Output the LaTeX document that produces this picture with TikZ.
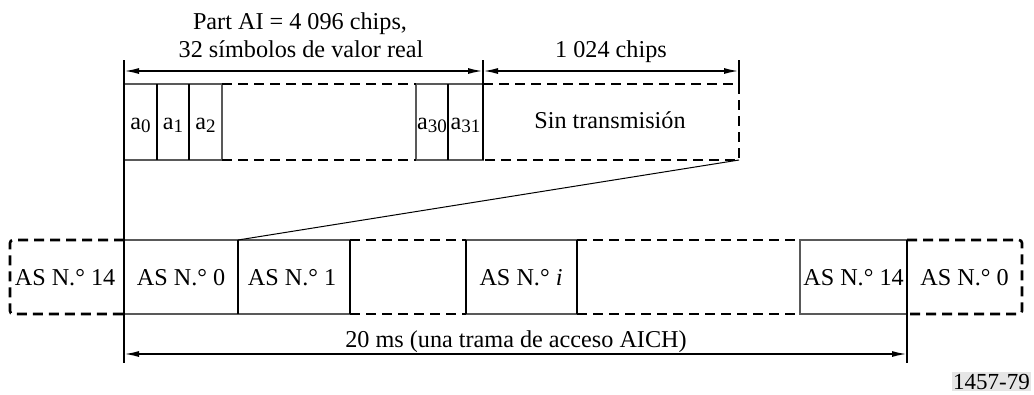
\documentclass[tikz,border=0pt]{standalone}
\usepackage{fontspec}
\setmainfont{Liberation Serif}
\usetikzlibrary{arrows.meta}
\newcommand\sbx[1]{\raisebox{-0.35ex}{\fontsize{19}{19}\selectfont #1}}
\begin{document}
\begin{tikzpicture}[x=1pt,y=-1pt,
 thinbox/.style={draw=black!65, line width=1.2pt},
 sepline/.style={draw=black, line width=2.2pt},
 medline/.style={draw=black, line width=1.6pt},
 dashedline/.style={draw=black, line width=2.6pt, dash pattern=on 10pt off 6pt},
 dimarrow/.style={draw=black, line width=1.8pt, {Latex[length=15pt,width=6pt]}-{Latex[length=15pt,width=6pt]}},
 guide/.style={draw=black, line width=1.5pt},
 lbl/.style={font=\fontsize{24.2}{28}\selectfont, inner sep=0pt, anchor=base},
]
\useasboundingbox (0,0) rectangle (1034,394);

% ---- guide coordinates
\coordinate (gL0) at (124,60);
\coordinate (gL1) at (124,363);
\coordinate (gM0) at (483,60);
\coordinate (gM1) at (483,160);
\coordinate (gR0) at (739,60);
\coordinate (gR1) at (739,84);
\coordinate (gB0) at (907,240);
\coordinate (gB1) at (907,363);
\coordinate (dA0) at (124,71);
\coordinate (dA1) at (483,71);
\coordinate (dB1) at (739,71);
\coordinate (dC0) at (124,354);
\coordinate (dC1) at (907,354);
\coordinate (zoomA) at (739,160);
\coordinate (zoomB) at (238,240);

% ---- top row
\draw[thinbox] (124,84) rectangle (222,160);
\draw[thinbox] (416,84) rectangle (483,160);
\draw[sepline] (157,84) -- (157,160);
\draw[sepline] (189,84) -- (189,160);
\draw[sepline] (448,84) -- (448,160);
\draw[dashedline] (222,84) -- (416,84);
\draw[dashedline] (222,160) -- (416,160);
\draw[dashedline] (483,84) -- (739,84) -- (739,160) -- (483,160);

% ---- bottom row
\draw[thinbox] (124,240) rectangle (238,314);
\draw[thinbox] (238,240) rectangle (350,314);
\draw[thinbox] (466,240) rectangle (577,314);
\draw[thinbox] (800,240) rectangle (907,314);
\draw[sepline] (238,240) -- (238,314);
\draw[medline] (350,240) -- (350,314);
\draw[medline] (466,240) -- (466,314);
\draw[medline] (577,240) -- (577,314);
\draw[dashedline, rounded corners=3pt] (124,240) -- (10,240) -- (10,314) -- (124,314);
\draw[dashedline] (350,240) -- (466,240);
\draw[dashedline] (350,314) -- (466,314);
\draw[dashedline] (577,240) -- (800,240);
\draw[dashedline] (577,314) -- (800,314);
\draw[dashedline, rounded corners=3pt] (907,240) -- (1022,240) -- (1022,314) -- (907,314);

% ---- guides and dimension arrows
\draw[guide] (gL0) -- (gL1);
\draw[guide] (gM0) -- (gM1);
\draw[guide] (gR0) -- (gR1);
\draw[medline] (gB0) -- (gB1);
\draw[line width=1pt] (zoomA) -- (zoomB);
\draw[dimarrow] (dA0) -- (dA1);
\draw[dimarrow] (dA1) -- (dB1);
\draw[dimarrow] (dC0) -- (dC1);

% ---- labels
\node[lbl] (t1) at (300,29) {Part AI = 4 096 chips,};
\node[lbl] (t2) at (301,57) {32 símbolos de valor real};
\node[lbl] (t3) at (611,57) {1 024 chips};
\node[lbl] (a0) at (140.5,129) {a\sbx{0}};
\node[lbl] (a1) at (173,129) {a\sbx{1}};
\node[lbl] (a2) at (205.5,129) {a\sbx{2}};
\node[lbl] (a30) at (432,129) {a\sbx{30}};
\node[lbl] (a31) at (465.5,129) {a\sbx{31}};
\node[lbl] (sin) at (610,128) {Sin transmisión};
\node[lbl] (s14l) at (65,285) {AS N.° 14};
\node[lbl] (s0) at (181,285) {AS N.° 0};
\node[lbl] (s1) at (292,285) {AS N.° 1};
\node[lbl] (si) at (521,285) {AS N.° \textit{i}};
\node[lbl] (s14) at (853.5,285) {AS N.° 14};
\node[lbl] (s0r) at (964.5,285) {AS N.° 0};
\node[lbl] (t20) at (516,347) {20 ms (una trama de acceso AICH)};
\node[fill=black!10, font=\fontsize{23}{26}\selectfont, inner xsep=1.5pt, inner ysep=2pt, text depth=0pt, anchor=base] (fig) at (991.5,389) {1457-79};
\end{tikzpicture}
\end{document}
